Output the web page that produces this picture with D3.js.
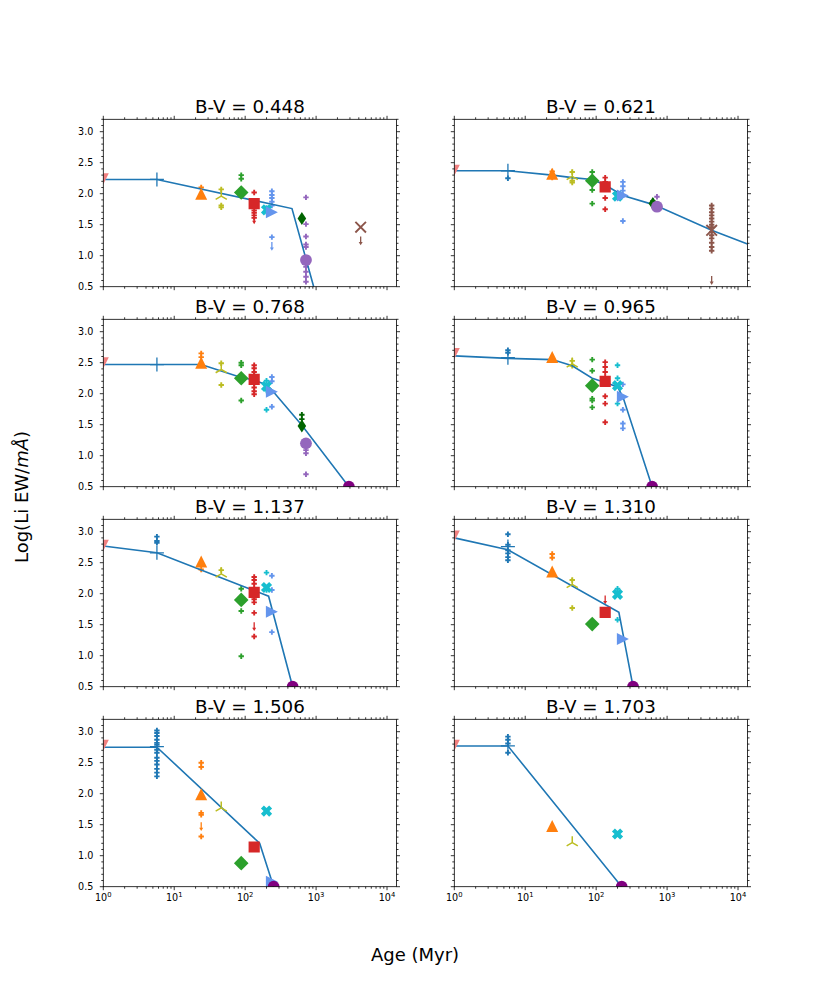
<!DOCTYPE html>
<html><head><meta charset="utf-8">
<script src="https://cdn.jsdelivr.net/npm/d3@7"></script>
<style>body{margin:0;background:#fff;} svg{display:block;}</style>
</head><body>
<svg id="c" width="830" height="997"></svg>
<script>
// ---------------- DATA ----------------
const panelBV = ["0.448","0.621","0.768","0.965","1.137","1.310","1.506","1.703"];
const clusterAges = [1, 5.7, 24, 46, 88, 134, 200, 238, 630, 720, 4250];

const meanLi_0448 = [2.24, 2.23, 2.00, 1.96, 2.02, 1.84, 1.74, 1.70, 1.60, 0.93, 1.46];
const meanLi_0621 = [2.38, 2.37, 2.32, 2.28, 2.21, 2.11, 1.96, 1.97, 1.84, 1.79, 1.41];
const meanLi_0768 = [2.50, 2.47, 2.50, 2.39, 2.25, 2.23, 2.12, 2.03, 1.48, 1.20, null];
const meanLi_0965 = [2.65, 2.58, 2.59, 2.48, 2.13, 2.20, 2.13, 1.95, null, null, null];
const meanLi_1137 = [2.78, 2.66, 2.52, 2.32, 1.90, 2.02, 2.10, 1.71, null, null, null];
const meanLi_1310 = [2.93, 2.76, 2.36, 2.15, 1.51, 1.70, 1.99, 1.27, null, null, null];
const meanLi_1506 = [2.78, 2.76, 1.99, 1.77, 0.88, 1.14, 1.72, 0.58, null, null, null];
const meanLi_1703 = [2.78, 2.77, 1.48, 1.21, null, null, 1.35, null, null, null, null];

// age where Li is fully depleted (drawn at the floor value)
const depletionAge = [null, null, 2900, 615, 467, 331, 252, 229];
const floorLi = 0.5;

const modelAge_0448 = [1, 5.7, 457, 925];
const modelLi_0448  = [2.23, 2.23, 1.76, 0.5];
const modelAge_0621 = [1, 5.7, 24, 46, 88, 134, 238, 660, 4250, 13600];
const modelLi_0621  = [2.37, 2.37, 2.30, 2.26, 2.23, 2.14, 1.97, 1.82, 1.41, 1.19];
const modelAge_0768 = [1, 5.7, 24, 88, 134, 200, 238, 630, 2900];
const modelLi_0768  = [2.47, 2.47, 2.47, 2.26, 2.22, 2.14, 2.06, 1.49, 0.5];
const modelAge_0965 = [1, 5.7, 24, 46, 88, 134, 200, 238, 615];
const modelLi_0965  = [2.61, 2.57, 2.55, 2.45, 2.25, 2.18, 2.11, 1.95, 0.5];
const modelAge_1137 = [1, 5.7, 214, 467];
const modelLi_1137  = [2.77, 2.66, 1.96, 0.5];
const modelAge_1310 = [1, 5.7, 209, 331];
const modelLi_1310  = [2.90, 2.71, 1.70, 0.5];
const modelAge_1506 = [1, 5.7, 160, 252];
const modelLi_1506  = [2.75, 2.75, 1.20, 0.5];
const modelAge_1703 = [1, 5.7, 229];
const modelLi_1703  = [2.77, 2.77, 0.5];

// individual stars [age, logEW]
const stars_0448 = [[24,2.10],[46,2.07],[46,1.81],[46,1.78],[88,2.30],[88,2.24],[134,2.02],[134,1.73],[134,1.69],[134,1.65],[134,1.61],[200,1.77],[200,1.71],[238,2.04],[238,1.98],[238,1.93],[238,1.87],[238,1.81],[238,1.30],[720,1.94],[720,1.51],[720,1.31],[720,1.18],[720,1.14],[720,0.82],[720,0.74],[720,0.66],[720,0.58]];
const stars_0621 = [[5.7,2.25],[24,2.26],[24,2.36],[46,2.35],[46,2.21],[46,2.18],[88,2.35],[88,2.06],[88,1.84],[134,2.26],[134,2.19],[134,1.93],[134,1.75],[200,2.00],[238,2.19],[238,2.12],[238,2.05],[238,1.56],[630,1.88],[720,1.95],[4250,1.81],[4250,1.76],[4250,1.70],[4250,1.65],[4250,1.60],[4250,1.55],[4250,1.50],[4250,1.46],[4250,1.38],[4250,1.33],[4250,1.28],[4250,1.21],[4250,1.14],[4250,1.08]];
const stars_0768 = [[24,2.65],[24,2.59],[46,2.49],[46,2.14],[88,2.50],[88,2.46],[88,1.89],[134,2.46],[134,2.41],[134,2.35],[134,2.30],[134,2.16],[134,2.10],[134,2.04],[134,1.99],[200,2.21],[200,2.05],[200,1.74],[238,2.27],[238,2.20],[238,1.79],[630,1.66],[630,1.59],[720,1.09],[720,1.04],[720,0.70]];
const stars_0965 = [[5.7,2.70],[5.7,2.66],[46,2.53],[46,2.45],[88,2.55],[88,2.37],[88,1.92],[88,1.89],[88,1.78],[134,2.51],[134,2.43],[134,2.35],[134,2.27],[134,1.96],[134,1.84],[134,1.54],[200,2.46],[200,2.25],[200,1.84],[238,2.15],[238,1.74],[238,1.52],[238,1.44]];
const stars_1137 = [[5.7,2.92],[5.7,2.85],[5.7,2.82],[24,2.39],[46,2.38],[88,2.08],[88,1.72],[88,0.99],[134,2.27],[134,2.22],[134,2.16],[134,2.09],[134,1.96],[134,1.91],[134,1.86],[134,1.69],[134,1.31],[200,2.34],[200,2.06],[238,2.29],[238,2.06],[238,1.38]];
const stars_1310 = [[5.7,2.96],[5.7,2.79],[5.7,2.70],[5.7,2.65],[5.7,2.59],[5.7,2.54],[24,2.64],[24,2.58],[46,2.22],[46,1.77],[200,2.08],[200,2.03],[200,1.58]];
const stars_1506 = [[5.7,3.02],[5.7,2.98],[5.7,2.93],[5.7,2.87],[5.7,2.82],[5.7,2.79],[5.7,2.71],[5.7,2.66],[5.7,2.58],[5.7,2.53],[5.7,2.47],[5.7,2.40],[5.7,2.34],[5.7,2.28],[24,2.50],[24,2.43],[24,1.69],[24,1.66],[24,1.31]];
const stars_1703 = [[5.7,2.92],[5.7,2.87],[5.7,2.81],[5.7,2.66]];

// upper limits [age, logEW]
const limits_0448 = [[134,1.57],[238,1.14],[4250,1.23]];
const limits_0621 = [[4250,0.59]];
const limits_0768 = [];
const limits_0965 = [];
const limits_1137 = [[134,1.46]];
const limits_1310 = [[134,1.89]];
const limits_1506 = [[24,1.46]];
const limits_1703 = [];

const yTicks = [0.5, 1.0, 1.5, 2.0, 2.5, 3.0];
const xTicks = [1, 10, 100, 1000, 10000];
const xTickExp = ["0","1","2","3","4"];

// ---------------- DRAW ----------------
const means  = [meanLi_0448, meanLi_0621, meanLi_0768, meanLi_0965, meanLi_1137, meanLi_1310, meanLi_1506, meanLi_1703];
const mAges  = [modelAge_0448, modelAge_0621, modelAge_0768, modelAge_0965, modelAge_1137, modelAge_1310, modelAge_1506, modelAge_1703];
const mLis   = [modelLi_0448, modelLi_0621, modelLi_0768, modelLi_0965, modelLi_1137, modelLi_1310, modelLi_1506, modelLi_1703];
const starsA = [stars_0448, stars_0621, stars_0768, stars_0965, stars_1137, stars_1310, stars_1506, stars_1703];
const limsA  = [limits_0448, limits_0621, limits_0768, limits_0965, limits_1137, limits_1310, limits_1506, limits_1703];

const colors = ["#f08080","#1f77b4","#ff7f0e","#bcbd22","#2ca02c","#d62728","#17becf","#6495ed","#006400","#9467bd","#8c564b"];
const shapes = ["v","+","^","tri","D","s","X",">","d","o","x"];

const FONT = "DejaVu Sans, sans-serif";
const svg = d3.select("#c");
const rowTop = [119.3, 319.3, 519.3, 719.3];
const colLeft = [103.3, 454.3];
const PW = 293.2, PH = 167.4;

function colorOfAge(a){ return colors[clusterAges.indexOf(a)]; }

function drawMarker(g, shape, color, cx, cy){
  const t = `translate(${cx},${cy})`;
  let p;
  switch(shape){
    case "v": p = g.append("path").attr("d","M-5.5,-5.5L5.5,-5.5L0,5.5Z").attr("fill",color); break;
    case "^": p = g.append("path").attr("d","M0,-6L6,6L-6,6Z").attr("fill",color); break;
    case ">": p = g.append("path").attr("d","M6,0L-6,-6L-6,6Z").attr("fill",color); break;
    case "D": p = g.append("path").attr("d","M0,-7.3L7.3,0L0,7.3L-7.3,0Z").attr("fill",color); break;
    case "d": p = g.append("path").attr("d","M0,-6.5L4.3,0L0,6.5L-4.3,0Z").attr("fill",color); break;
    case "s": p = g.append("path").attr("d","M-5.6,-5.6H5.6V5.6H-5.6Z").attr("fill",color); break;
    case "o": p = g.append("circle").attr("r",5.9).attr("fill",color); break;
    case "X": {
      const a=5.8, b=2.1; // half length, half thickness
      const pts = [[-b,-a],[b,-a],[b,-b],[a,-b],[a,b],[b,b],[b,a],[-b,a],[-b,b],[-a,b],[-a,-b],[-b,-b]];
      const c=Math.SQRT1_2;
      const r = pts.map(([x,y])=>[(x-y)*c,(x+y)*c]);
      p = g.append("path").attr("d","M"+r.map(q=>q[0].toFixed(2)+","+q[1].toFixed(2)).join("L")+"Z").attr("fill",color);
      break; }
    case "x": p = g.append("path").attr("d","M-5.3,-5.3L5.3,5.3M-5.3,5.3L5.3,-5.3").attr("stroke",color).attr("stroke-width",1.9).attr("fill","none"); break;
    case "+": p = g.append("path").attr("d","M-7,0H7M0,-7V7").attr("stroke",color).attr("stroke-width",1.3).attr("fill","none"); break;
    case "tri": p = g.append("path").attr("d","M0,0V-6.5M0,0L5.6,3.25M0,0L-5.6,3.25").attr("stroke",color).attr("stroke-width",1.5).attr("fill","none"); break;
    case "p": p = g.append("path").attr("d","M-2.7,0H2.7M0,-2.7V2.7").attr("stroke",color).attr("stroke-width",1.9).attr("fill","none"); break;
    case "arrow": p = g.append("path").attr("d","M0,-5V1").attr("stroke",color).attr("stroke-width",1.3).attr("fill","none");
      g.append("path").attr("transform",t).attr("d","M-2,0.5L2,0.5L0,3.8Z").attr("fill",color);
      break;
  }
  p.attr("transform",t);
}

for(let i=0;i<8;i++){
  const col=i%2, row=Math.floor(i/2);
  const x0=colLeft[col], y0=rowTop[row];
  const x = d3.scaleLog().domain([1,13600]).range([x0,x0+PW]);
  const y = d3.scaleLinear().domain([0.5,3.2]).range([y0+PH,y0]);

  const cid="clip"+i;
  svg.append("clipPath").attr("id",cid).append("rect").attr("x",x0).attr("y",y0).attr("width",PW).attr("height",PH);
  const g = svg.append("g").attr("clip-path",`url(#${cid})`);

  // individual stars
  starsA[i].forEach(([a,v])=> drawMarker(g,"p",colorOfAge(a),x(a),y(v)));
  limsA[i].forEach(([a,v])=> drawMarker(g,"arrow",colorOfAge(a),x(a),y(v)));

  // model line
  const line = d3.line().x(d=>x(d[0])).y(d=>y(d[1]));
  g.append("path").attr("d", line(mAges[i].map((a,k)=>[a,mLis[i][k]])))
    .attr("fill","none").attr("stroke","#1f77b4").attr("stroke-width",1.6);

  // cluster means
  means[i].forEach((v,k)=>{ if(v!==null) drawMarker(g,shapes[k],colors[k],x(clusterAges[k]),y(v)); });
  if(depletionAge[i]!==null) drawMarker(g,"o","#800080",x(depletionAge[i]),y(floorLi));

  // frame
  svg.append("rect").attr("x",x0).attr("y",y0).attr("width",PW).attr("height",PH)
    .attr("fill","none").attr("stroke","#000").attr("stroke-width",0.8);

  // ticks
  const tk = svg.append("g").attr("stroke","#000").attr("stroke-width",0.8);
  const yMinor = d3.range(6,33).map(d=>d/10).filter(v=>Math.abs(v*2-Math.round(v*2))>1e-6);
  yTicks.forEach(v=>{
    tk.append("line").attr("x1",x0).attr("x2",x0-3.5).attr("y1",y(v)).attr("y2",y(v));
    tk.append("line").attr("x1",x0+PW).attr("x2",x0+PW+3.5).attr("y1",y(v)).attr("y2",y(v));
  });
  yMinor.forEach(v=>{
    tk.append("line").attr("x1",x0).attr("x2",x0-2).attr("y1",y(v)).attr("y2",y(v));
    tk.append("line").attr("x1",x0+PW).attr("x2",x0+PW+2).attr("y1",y(v)).attr("y2",y(v));
  });
  xTicks.forEach(a=>{
    tk.append("line").attr("x1",x(a)).attr("x2",x(a)).attr("y1",y0+PH).attr("y2",y0+PH+3.5);
    tk.append("line").attr("x1",x(a)).attr("x2",x(a)).attr("y1",y0).attr("y2",y0-3.5);
  });
  const xMinor=[];
  [1,10,100,1000,10000].forEach(d=>{ for(let m=2;m<=9;m++){ if(d*m<=13600) xMinor.push(d*m);} });
  xMinor.forEach(a=>{
    tk.append("line").attr("x1",x(a)).attr("x2",x(a)).attr("y1",y0+PH).attr("y2",y0+PH+2);
    tk.append("line").attr("x1",x(a)).attr("x2",x(a)).attr("y1",y0).attr("y2",y0-2);
  });

  // tick labels
  if(col===0){
    yTicks.forEach(v=>{
      svg.append("text").attr("x",x0-10).attr("y",y(v)).attr("dy","0.36em")
        .attr("text-anchor","end").attr("font-family",FONT).attr("font-size",9.6).text(v.toFixed(1));
    });
  }
  if(row===3){
    xTicks.forEach((a,k)=>{
      const t = svg.append("text").attr("x",x(a)).attr("y",y0+PH+14.5)
        .attr("text-anchor","middle").attr("font-family",FONT).attr("font-size",9.6);
      t.append("tspan").text("10");
      t.append("tspan").attr("font-size",6.8).attr("dy",-4).text(xTickExp[k]);
    });
  }

  // title
  svg.append("text").attr("x",x0+PW/2).attr("y",y0-6).attr("text-anchor","middle")
    .attr("font-family",FONT).attr("font-size",18.3).text("B-V = "+panelBV[i]);
}

// axis labels
svg.append("text").attr("x",415).attr("y",961).attr("text-anchor","middle")
  .attr("font-family",FONT).attr("font-size",18).text("Age (Myr)");
const yl = svg.append("text").attr("transform","translate(28,497) rotate(-90)").attr("text-anchor","middle")
  .attr("font-family",FONT).attr("font-size",18);
yl.append("tspan").text("Log(Li EW/");
yl.append("tspan").attr("font-style","italic").text("mÅ");
yl.append("tspan").text(")");
</script>
</body></html>
